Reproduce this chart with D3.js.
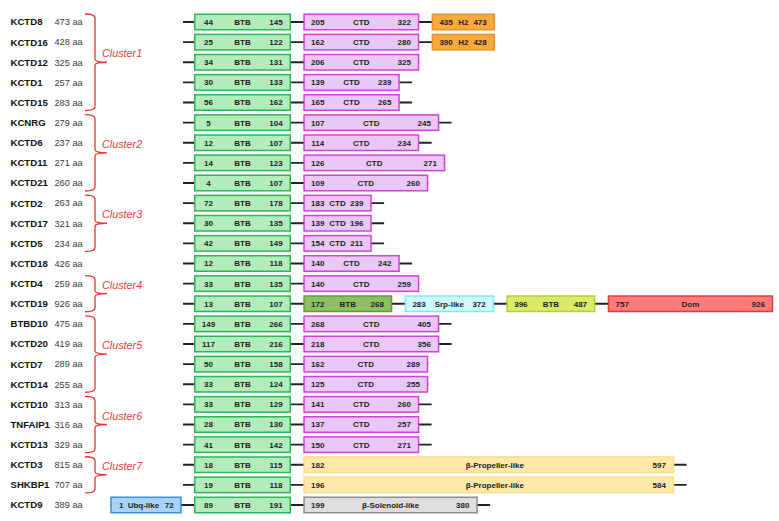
<!DOCTYPE html>
<html>
<head>
<meta charset="utf-8">
<script src="https://cdn.jsdelivr.net/npm/d3@7"></script>
<style>
  html, body { margin: 0; padding: 0; background: #fff; }
  svg { display: block; font-family: Arial, "Liberation Sans", sans-serif; }
</style>
</head>
<body>
<svg id="chart" width="779" height="521"></svg>
<script>
// ---------------- DATA ----------------
const proteins = ["KCTD8","KCTD16","KCTD12","KCTD1","KCTD15","KCNRG","KCTD6","KCTD11","KCTD21",
  "KCTD2","KCTD17","KCTD5","KCTD18","KCTD4","KCTD19","BTBD10","KCTD20","KCTD7","KCTD14",
  "KCTD10","TNFAIP1","KCTD13","KCTD3","SHKBP1","KCTD9"];
const lengths = [473,428,325,257,283,279,237,271,260,263,321,234,426,259,926,475,419,289,255,313,316,329,815,707,389];

// BTB domain (start, end) per protein
const btbStart = [44,25,34,30,56,5,12,14,4,72,30,42,12,33,13,149,117,50,33,33,28,41,18,19,89];
const btbEnd   = [145,122,131,133,162,104,107,123,107,178,135,149,118,135,107,266,216,158,124,129,130,142,115,118,191];

// CTD domain (start, end, schematic size tier) per protein; null where absent
const ctdStart = [205,162,206,139,165,107,114,126,109,183,139,154,140,140,null,268,218,162,125,141,137,150,null,null,null];
const ctdEnd   = [322,280,325,239,265,245,234,271,260,239,196,211,242,259,null,405,356,289,255,260,257,271,null,null,null];
const ctdTier  = [3,3,3,2,2,5,3,6,4,1,1,1,2,3,null,5,5,4,4,3,3,3,null,null,null];

// Other domains: [protein, type, label, start, end]
const extraDomains = [
  ["KCTD8","H2","H2",435,473],
  ["KCTD16","H2","H2",390,428],
  ["KCTD19","BTB2","BTB",172,268],
  ["KCTD19","Srp","Srp-like",283,372],
  ["KCTD19","BTB3","BTB",396,487],
  ["KCTD19","Dom","Dom",757,926],
  ["KCTD3","Prop","β-Propeller-like",182,597],
  ["SHKBP1","Prop","β-Propeller-like",196,584],
  ["KCTD9","Ubq","Ubq-like",1,72],
  ["KCTD9","Sol","β-Solenoid-like",199,380]
];

const clusterNames = ["Cluster1","Cluster2","Cluster3","Cluster4","Cluster5","Cluster6","Cluster7"];
const clusterFirst = ["KCTD8","KCNRG","KCTD2","KCTD4","BTBD10","KCTD10","KCTD3"];
const clusterLast  = ["KCTD15","KCTD21","KCTD5","KCTD19","KCTD14","KCTD13","SHKBP1"];

// ---------------- SCALES / STYLES ----------------
const svg = d3.select("#chart");

const y = d3.scalePoint().domain(proteins).range([22, 505]);
// schematic (not-to-scale) horizontal units, BTB anchored at 0
const x = d3.scaleLinear().domain([0, 580]).range([194, 774]);

const typeWidth = d3.scaleOrdinal()
  .domain(["BTB","H2","BTB2","Srp","BTB3","Dom","Prop","Sol","Ubq"])
  .range([97, 63.5, 89, 89.5, 89, 165.5, 371, 174.5, 71.5]);
const ctdWidth = d3.scaleOrdinal().domain([1,2,3,4,5,6]).range([68.5, 96.5, 116, 125, 136, 142]);

const fillC = d3.scaleOrdinal()
  .domain(["BTB","CTD","H2","BTB2","Srp","BTB3","Dom","Prop","Sol","Ubq"])
  .range(["#b3ecbb","#e9c8f7","#fba83c","#8dbf64","#cffbff","#d9ea68","#ff7c7a","#ffe9a8","#dedede","#a6d3f7"]);
const strokeC = d3.scaleOrdinal()
  .domain(["BTB","CTD","H2","BTB2","Srp","BTB3","Dom","Prop","Sol","Ubq"])
  .range(["#2bb657","#d440e0","#eb922c","#5e9a3a","#78ecf7","#b8cf2e","#e23b3b","#f7dc8a","#8e8e8e","#3d8fd8"]);

const GAP = 12.3, LEAD = 11, TAIL = 12.3, BOXH = 17;

// build per-row domain lists
const rows = proteins.map((p, i) => {
  const doms = [];
  doms.push({type:"BTB", label:"BTB", start:btbStart[i], end:btbEnd[i], w:typeWidth("BTB")});
  if (ctdStart[i] != null) doms.push({type:"CTD", label:"CTD", start:ctdStart[i], end:ctdEnd[i], w:ctdWidth(ctdTier[i])});
  extraDomains.filter(d => d[0] === p).forEach(d => {
    doms.push({type:d[1], label:d[2], start:d[3], end:d[4], w:typeWidth(d[1])});
  });
  doms.sort((a,b) => a.start - b.start);
  const bi = doms.findIndex(d => d.type === "BTB");
  doms[bi].u0 = 0;
  for (let k = bi - 1; k >= 0; k--) doms[k].u0 = doms[k+1].u0 - GAP - doms[k].w;
  for (let k = bi + 1; k < doms.length; k++) doms[k].u0 = doms[k-1].u0 + doms[k-1].w + GAP;
  return {name:p, len:lengths[i], doms};
});

// ---------------- LINES ----------------
const lineG = svg.append("g").attr("stroke", "#222").attr("stroke-width", 1.8);
rows.forEach(r => {
  const yy = y(r.name);
  const first = r.doms[0], last = r.doms[r.doms.length-1];
  let a = x(first.u0), b = x(last.u0 + last.w);
  if (first.start > 1) a = x(first.u0 - LEAD);
  if (last.end < r.len) b = x(last.u0 + last.w + TAIL);
  lineG.append("line").attr("x1", a).attr("x2", b).attr("y1", yy).attr("y2", yy);
});

// ---------------- BOXES ----------------
const boxG = svg.append("g");
rows.forEach(r => {
  const yy = y(r.name);
  const g = boxG.append("g");
  const sel = g.selectAll("g.dom").data(r.doms).join("g").attr("class","dom");
  sel.append("rect")
    .attr("x", d => x(d.u0) + 0.75)
    .attr("y", yy - BOXH/2 + 0.75)
    .attr("width", d => x(d.u0 + d.w) - x(d.u0) - 1.5)
    .attr("height", BOXH - 1.5)
    .attr("fill", d => fillC(d.type))
    .attr("stroke", d => strokeC(d.type))
    .attr("stroke-width", 1.5);
  const txt = (sel, fx, fn) => sel.append("text")
      .attr("x", fx).attr("y", yy).attr("dy", "0.36em")
      .attr("text-anchor", "middle")
      .attr("font-size", 8).attr("font-weight", "bold").attr("fill", "#222")
      .text(fn);
  txt(sel, d => x(d.u0) + (d.type === "Ubq" ? 11 : 14.5), d => d.start);
  txt(sel, d => x(d.u0 + d.w / 2) + (d.type === "Prop" ? 6 : d.type === "Ubq" ? -2.5 : 0), d => d.label);
  txt(sel, d => x(d.u0 + d.w) - (d.type === "Ubq" ? 12.5 : 15), d => d.end);
});

// ---------------- NAMES ----------------
const nameG = svg.append("g");
nameG.selectAll("text.name").data(rows).join("text").attr("class","name")
  .attr("x", 10.5).attr("y", d => y(d.name)).attr("dy", "0.36em")
  .attr("font-size", 9.6).attr("font-weight", "bold").attr("fill", "#111")
  .text(d => d.name);
nameG.selectAll("text.len").data(rows).join("text").attr("class","len")
  .attr("x", 54.5).attr("y", d => y(d.name)).attr("dy", "0.36em")
  .attr("font-size", 9.2).attr("fill", "#3a3a3a")
  .text(d => d.len + " aa");

// ---------------- CLUSTER BRACES ----------------
const brG = svg.append("g");
clusterNames.forEach((c, i) => {
  const top = y(clusterFirst[i]) - 8, bot = y(clusterLast[i]) + 8, mid = (top + bot) / 2;
  const xa = 85, xs = 95, xt = 107;
  const p = d3.path();
  p.moveTo(xa, top);
  p.quadraticCurveTo(xs, top, xs, top + 4);
  p.lineTo(xs, mid - 3);
  p.quadraticCurveTo(xs, mid, xt, mid);
  p.moveTo(xs, mid + 3);
  p.quadraticCurveTo(xs, mid, xt, mid);
  p.moveTo(xs, mid + 3);
  p.lineTo(xs, bot - 4);
  p.quadraticCurveTo(xs, bot, xa, bot);
  brG.append("path").attr("d", p.toString())
    .attr("fill", "none").attr("stroke", "#f03030").attr("stroke-width", 1.3);
  brG.append("text").attr("x", 102).attr("y", mid - 5)
    .attr("font-size", 10.8).attr("font-style", "italic").attr("fill", "#f03a3a")
    .text(c);
});
</script>
</body>
</html>
